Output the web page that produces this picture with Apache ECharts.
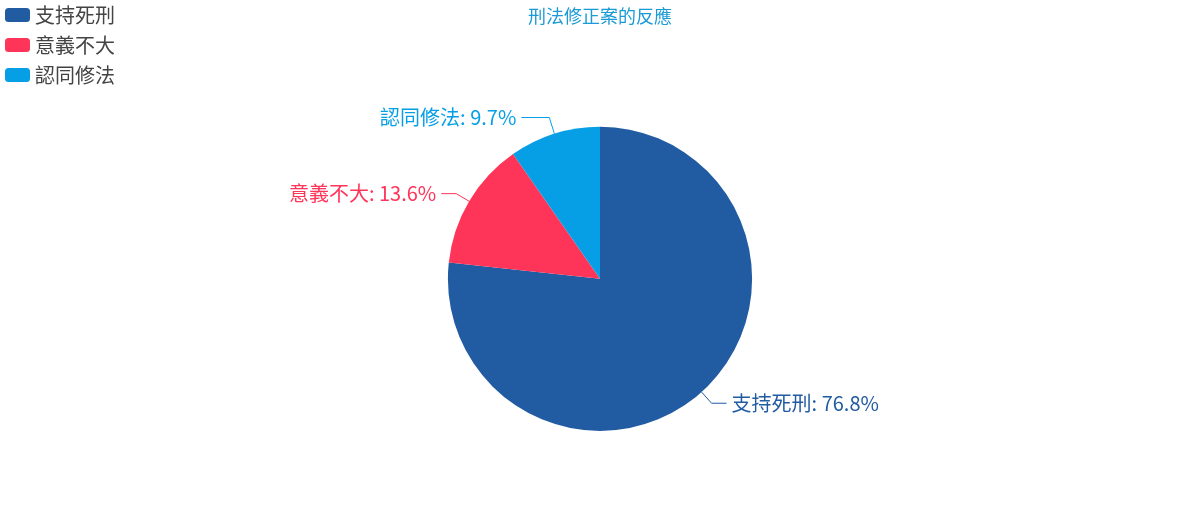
<!DOCTYPE html>
<html>
<head>
<meta charset="utf-8">
<script src="https://cdn.jsdelivr.net/npm/echarts@6/dist/echarts.min.js"></script>
<style>
html, body { margin: 0; padding: 0; background: #fff; }
#main { width: 1200px; height: 507px; }
</style>
</head>
<body>
<div id="main"></div>
<script>
var names = ['支持死刑', '意義不大', '認同修法'];
var values = [76.8, 13.6, 9.7];
var colors = ['#215ba2', '#ff3459', '#069fe6'];

var myChart = echarts.init(document.getElementById('main'));
var seriesData = [];
for (var i = 0; i < names.length; i++) {
    seriesData.push({ name: names[i], value: values[i] });
}
// small slice at the top gets a longer leader line, as in the source
seriesData[2].labelLine = { length: 17, length2: 28 };

var option = {
    color: colors,
    textStyle: { fontFamily: '"Noto Sans CJK TC", "Noto Sans", sans-serif' },
    title: {
        text: '刑法修正案的反應',
        left: 'center',
        top: 2,
        textStyle: { color: '#1a9ad6', fontSize: 18, fontWeight: 'normal' }
    },
    legend: {
        orient: 'vertical',
        left: 0,
        top: 0,
        itemWidth: 25,
        itemHeight: 14,
        itemGap: 10,
        icon: 'roundRect',
        textStyle: { fontSize: 20, color: '#444' },
        data: names
    },
    series: [
        {
            type: 'pie',
            radius: '60%',
            center: ['50%', '55%'],
            startAngle: 90,
            clockwise: true,
            data: seriesData,
            label: {
                formatter: function (p) { return p.name + ': ' + p.value + '%'; },
                fontSize: 20,
                color: 'inherit'
            },
            labelLine: { length: 15, length2: 15 }
        }
    ]
};
myChart.setOption(option);
</script>
</body>
</html>
